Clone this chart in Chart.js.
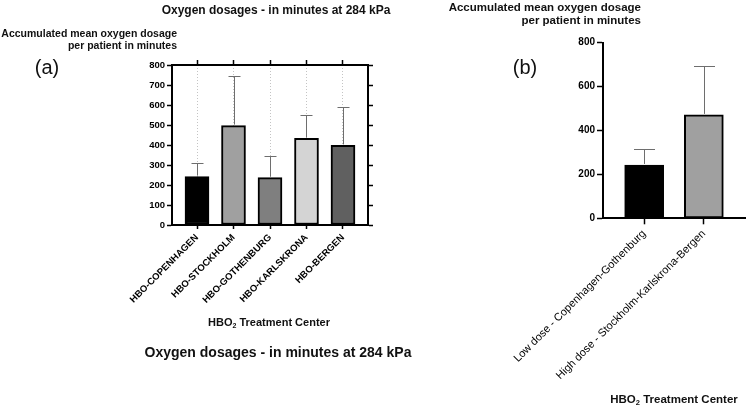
<!DOCTYPE html>
<html><head><meta charset="utf-8">
<script src="https://cdn.jsdelivr.net/npm/chart.js@4"></script>
<style>
html,body{margin:0;padding:0;background:#fff}
body{width:746px;height:408px;overflow:hidden;position:relative;font-family:"Liberation Sans",Arial,sans-serif;color:#111}
.t{position:absolute;white-space:nowrap;font-weight:bold}
.c{transform:translate(-50%,-50%)}
</style></head><body>
<div style="position:absolute;left:0;top:0;width:400px;height:330px"><canvas id="a"></canvas></div>
<div style="position:absolute;left:440px;top:0;width:306px;height:408px"><canvas id="b"></canvas></div>

<div class="t c" style="left:276px;top:10px;font-size:12px">Oxygen dosages - in minutes at 284 kPa</div>
<div class="t" style="right:569px;top:27px;font-size:10.5px;line-height:12px;text-align:right">Accumulated mean oxygen dosage<br>per patient in minutes</div>
<div class="t c" style="left:47px;top:67px;font-size:20px;font-weight:normal">(a)</div>
<div class="t c" style="left:269px;top:322px;font-size:11px">HBO<sub style="font-size:7px;vertical-align:-2px">2</sub> Treatment Center</div>
<div class="t c" style="left:278px;top:352px;font-size:14px">Oxygen dosages - in minutes at 284 kPa</div>

<div class="t" style="right:105px;top:1px;font-size:11.5px;line-height:13px;text-align:right">Accumulated mean oxygen dosage<br>per patient in minutes</div>
<div class="t c" style="left:525px;top:67px;font-size:20px;font-weight:normal">(b)</div>
<div class="t c" style="left:674px;top:400px;font-size:11.5px">HBO<sub style="font-size:7.5px;vertical-align:-2px">2</sub> Treatment Center</div>

<script>
// ---- data ----
const catsA = ['HBO-COPENHAGEN','HBO-STOCKHOLM','HBO-GOTHENBURG','HBO-KARLSKRONA','HBO-BERGEN'];
const meanA = [242, 497, 237, 433, 398];
const sdA   = [66, 248, 108, 115, 190];
const catsB = ['Low dose - Copenhagen-Gothenburg','High dose - Stockholm-Karlskrona-Bergen'];
const meanB = [243, 471];
const sdB   = [73, 222];
const ticksA = [0,100,200,300,400,500,600,700,800];
const ticksB = [0,200,400,600,800];

const colorsA = ['#000000','#a0a0a0','#7f7f7f','#d4d4d4','#606060'];
const colorsB = ['#000000','#a0a0a0'];
const FONT = '"Liberation Sans", Arial, sans-serif';

function errPlugin(means, sds, cap, color){
  return {id:'errbars', afterDatasetsDraw(chart){
    const ctx = chart.ctx, x = chart.scales.x, y = chart.scales.y;
    ctx.save(); ctx.strokeStyle = color; ctx.lineWidth = 1;
    means.forEach((m,i)=>{
      const px = Math.round(x.getPixelForValue(i)) + 0.5;
      const y0 = y.getPixelForValue(m) - 1;
      const y1 = Math.round(y.getPixelForValue(m + sds[i])) + 0.5;
      ctx.beginPath();
      ctx.moveTo(px, y0); ctx.lineTo(px, y1);
      ctx.moveTo(px - cap/2, y1); ctx.lineTo(px + cap/2, y1);
      ctx.stroke();
    });
    ctx.restore();
  }};
}

const catTicks = cats => s => { s.ticks = cats.map((_,i)=>({value:i})); };
const valTicks = vals => s => { s.ticks = vals.map(v=>({value:v})); };

// ---- chart (a) ----
new Chart(document.getElementById('a'), {
  type:'bar',
  data:{datasets:[{
    data: meanA.map((v,i)=>({x:i,y:v})),
    backgroundColor: colorsA, borderColor:'#000', borderWidth:2, borderSkipped:false,
    barThickness:24
  }]},
  options:{
    animation:false, responsive:true, maintainAspectRatio:false,
    layout:{padding:0},
    plugins:{legend:{display:false}, tooltip:{enabled:false}},
    scales:{
      x:{type:'linear', position:'bottom', min:-0.685, max:4.685, offset:false,
        afterBuildTicks: catTicks(catsA),
        afterFit: s=>{ s.height = 105; },
        ticks:{autoSkip:false, minRotation:45, maxRotation:45, padding:3, color:'#000',
          font:{family:FONT, size:9.5, weight:'bold'}, callback:v=>catsA[v]},
        grid:{display:true, offset:false, drawOnChartArea:true, color:'#c4c4c4', lineWidth:1,
          tickColor:'#000', tickBorderDash:[], tickLength:4, tickWidth:1.5},
        border:{display:true, color:'#000', width:2, dash:[1,2]}
      },
      xTop:{type:'linear', position:'top', min:-0.685, max:4.685, offset:false,
        afterBuildTicks: catTicks(catsA),
        afterFit: s=>{ s.height = 65; },
        ticks:{display:false},
        grid:{display:true, offset:false, drawOnChartArea:false, tickColor:'#000', tickLength:5, tickWidth:1.5},
        border:{display:true, color:'#000', width:2}
      },
      y:{type:'linear', position:'left', min:0, max:800,
        afterBuildTicks: valTicks(ticksA),
        afterFit: s=>{ s.width = 172; },
        ticks:{padding:2, color:'#000', font:{family:FONT, size:9.5, weight:'bold'}},
        grid:{drawOnChartArea:false, tickColor:'#000', tickLength:5, tickWidth:1.5},
        border:{display:true, color:'#000', width:2}
      },
      y2:{type:'linear', position:'right', min:0, max:800,
        afterBuildTicks: valTicks(ticksA),
        afterFit: s=>{ s.width = 32; },
        ticks:{display:false},
        grid:{drawOnChartArea:false, tickColor:'#000', tickLength:5, tickWidth:1.5},
        border:{display:true, color:'#000', width:2}
      }
    }
  },
  plugins:[errPlugin(meanA, sdA, 12, '#6e6e6e')]
});

// ---- chart (b) ----
new Chart(document.getElementById('b'), {
  type:'bar',
  data:{datasets:[{
    data: meanB.map((v,i)=>({x:i,y:v})),
    backgroundColor: colorsB, borderColor:'#000', borderWidth:2, borderSkipped:false,
    barThickness:39
  }]},
  options:{
    animation:false, responsive:true, maintainAspectRatio:false,
    layout:{padding:{top:42.7, right:1, left:0, bottom:0}},
    plugins:{legend:{display:false}, tooltip:{enabled:false}},
    scales:{
      x:{type:'linear', position:'bottom', min:-0.69, max:1.69, offset:false,
        afterBuildTicks: catTicks(catsB),
        afterFit: s=>{ s.height = 189.7; },
        ticks:{autoSkip:false, minRotation:45, maxRotation:45, padding:3, color:'#000',
          font:{family:FONT, size:11}, callback:v=>catsB[v]},
        grid:{display:true, offset:false, drawOnChartArea:false, tickColor:'#000', tickLength:6, tickWidth:1.5},
        border:{display:true, color:'#000', width:2}
      },
      y:{type:'linear', position:'left', min:0, max:800,
        afterBuildTicks: valTicks(ticksB),
        afterFit: s=>{ s.width = 163; },
        ticks:{padding:2, color:'#000', font:{family:FONT, size:10, weight:'bold'}},
        grid:{drawOnChartArea:false, tickColor:'#000', tickLength:6, tickWidth:1.5},
        border:{display:true, color:'#000', width:2}
      }
    }
  },
  plugins:[errPlugin(meanB, sdB, 21, '#6e6e6e')]
});
</script>
</body></html>
